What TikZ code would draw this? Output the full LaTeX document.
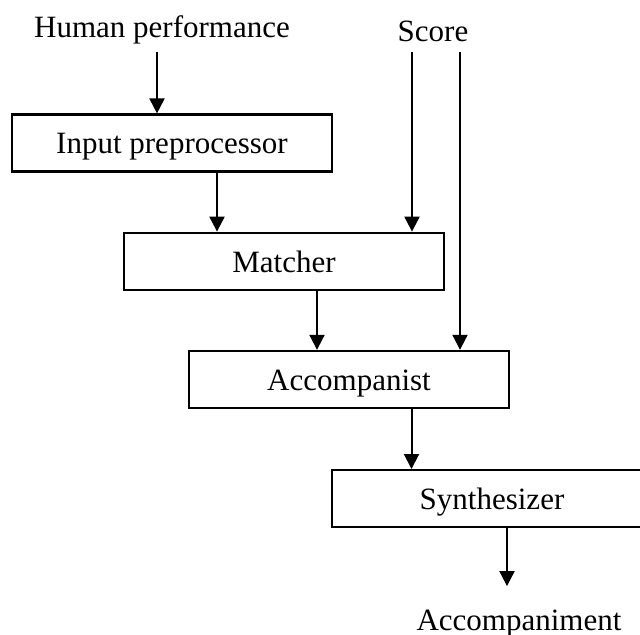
\documentclass[tikz,border=0pt]{standalone}
\usepackage{fontspec}
\setmainfont{Liberation Serif}
\usepackage{tikz}
\usetikzlibrary{positioning,arrows.meta}

\begin{document}
\begin{tikzpicture}[every node/.style={font=\fontsize{15.5pt}{18pt}\selectfont},
    block/.style={rectangle, draw=black, line width=1.1pt, minimum width=160pt, minimum height=28.5pt, inner sep=0pt, text height=10.8pt, text depth=0pt},
    lbl/.style={inner sep=0pt},
    arr/.style={-{Triangle[length=7.5pt,width=7.5pt]}, line width=1pt}]
    \useasboundingbox (0,0) rectangle (320pt,-317pt);
    \node[lbl, anchor=base] (hum) at (81pt,-18.5pt) {Human performance};
    \node[lbl, anchor=base] (sco) at (216.5pt,-20.5pt) {Score};
    \node[block] (inp) at (86pt,-71.5pt) {Input preprocessor};
    \node[block, below right=29.5pt and 56pt of inp.south west] (mat) {Matcher};
    \node[block, below right=29.5pt and 32.5pt of mat.south west] (acc) {Accompanist};
    \node[block, below right=30pt and 71.5pt of acc.south west] (syn) {Synthesizer};
    \node[lbl, anchor=base] (acm) at (259.5pt,-315pt) {Accompaniment};
    % inputs
    \draw[arr] ([shift={(-2.5pt,-7.5pt)}]hum.base) coordinate (h1) -- (h1 |- inp.north);
    \draw[arr] ([shift={(-10.5pt,-5.5pt)}]sco.base) coordinate (s1) -- (s1 |- mat.north);
    \draw[arr] ([shift={(13.5pt,-5.5pt)}]sco.base) coordinate (s2) -- (s2 |- acc.north);
    % chain
    \draw[arr] ([xshift=22.5pt]inp.south) coordinate (i1) -- (i1 |- mat.north);
    \draw[arr] ([xshift=16.5pt]mat.south) coordinate (m1) -- (m1 |- acc.north);
    \draw[arr] ([xshift=31.25pt]acc.south) coordinate (a1) -- (a1 |- syn.north);
    \draw[arr, shorten >=11.5pt] ([xshift=7.5pt]syn.south) coordinate (y1) -- (y1 |- acm.north);
\end{tikzpicture}
\end{document}
